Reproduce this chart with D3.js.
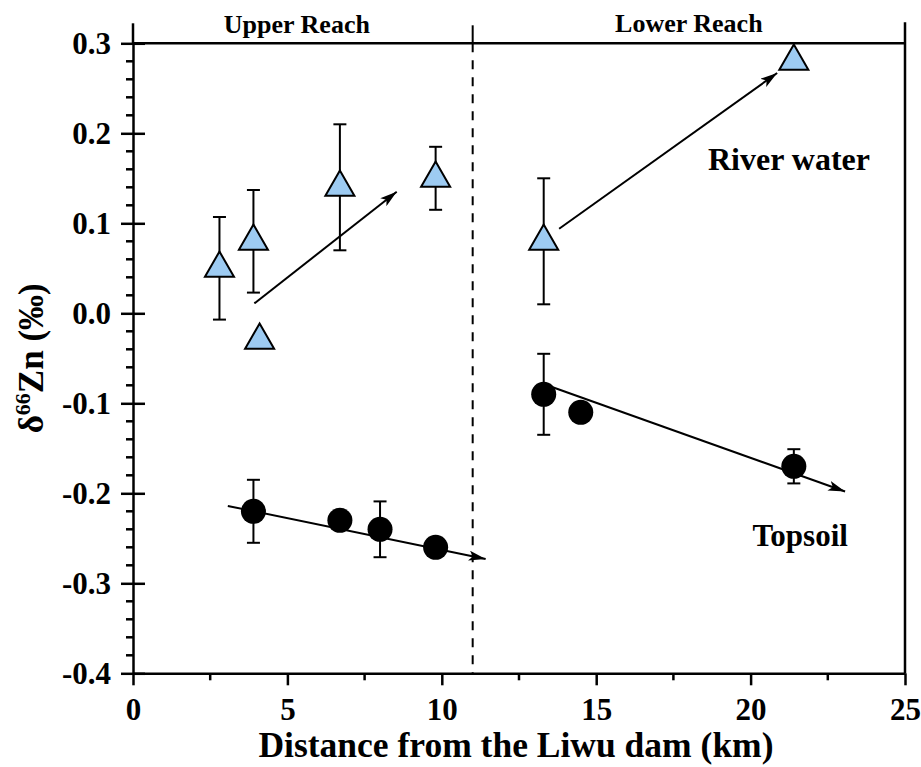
<!DOCTYPE html>
<meta charset="utf-8">
<style>
  body { margin: 0; background: #fff; }
  text { font-family: 'Liberation Serif', 'Times New Roman', serif; font-weight: bold; fill: #000; }
  .tick text { font-size: 31px; }
  .axis path, .axis line { stroke: #000; stroke-width: 2.5px; }
</style>
<script src="https://d3js.org/d3.v7.min.js"></script>
<div id="chart"></div>
<script>

// river water: distance (km), d66Zn, error
var waterX   = [2.8, 3.9, 4.1, 6.7, 9.8, 13.3, 21.4];
var waterY   = [0.05, 0.08, -0.03, 0.14, 0.15, 0.08, 0.28];
var waterErr = [0.057, 0.057, null, 0.07, 0.035, 0.07, null];

// topsoil
var soilX   = [3.9, 6.7, 8.0, 9.8, 13.3, 14.5, 21.4];
var soilY   = [-0.22, -0.23, -0.24, -0.26, -0.09, -0.11, -0.17];
var soilErr = [0.035, null, 0.031, null, 0.045, null, 0.019];

// trend arrows [start, end]
var arrowUpperWater = [[3.93, 0.011], [8.54, 0.135]];
var arrowLowerWater = [[13.8, 0.094], [20.86, 0.267]];
var arrowUpperSoil  = [[3.07, -0.214], [11.42, -0.273]];
var arrowLowerSoil  = [[13.5, -0.081], [23.06, -0.198]];

var xTicks = [0, 5, 10, 15, 20, 25];
var xMinor = [2.5, 7.5, 12.5, 17.5, 22.5];
var yTicks = [-0.4, -0.3, -0.2, -0.1, 0.0, 0.1, 0.2, 0.3];
var yMinor = d3.range(-40, 31, 2).filter(function(v){ return v % 10 != 0; }).map(function(v){ return v / 100; });
var boundary = 11;

var W = 921, H = 767;
var margin = {top: 43.3, right: 16, bottom: 93.7, left: 133},
    width = W - margin.left - margin.right,
    height = H - margin.top - margin.bottom;

var svg = d3.select("#chart").append("svg")
    .attr("width", W).attr("height", H)
  .append("g")
    .attr("transform", "translate(" + margin.left + "," + margin.top + ")");

var x = d3.scaleLinear().domain([0, 25]).range([0, width]);
var y = d3.scaleLinear().domain([-0.4, 0.3]).range([height, 0]);

var defs = svg.append("defs");
defs.append("marker")
    .attr("id", "arrow")
    .attr("markerUnits", "userSpaceOnUse")
    .attr("markerWidth", 17).attr("markerHeight", 10)
    .attr("refX", 17).attr("refY", 5)
    .attr("orient", "auto")
  .append("path")
    .attr("d", "M0,0 L17,5 L0,10 L4,5 z")
    .attr("fill", "#000");

// x axis
var xAxis = svg.append("g")
    .attr("class", "axis")
    .attr("transform", "translate(0," + height + ")")
    .call(d3.axisBottom(x).tickValues(xTicks).tickSize(12).tickSizeOuter(0));
xAxis.selectAll(".tick text").attr("y", 46.7).attr("dy", 0);
xAxis.selectAll(".minor")
    .data(xMinor).enter().append("line")
    .attr("x1", function(d){ return x(d); }).attr("x2", function(d){ return x(d); })
    .attr("y1", 0).attr("y2", 7)
    .attr("stroke", "#000").attr("stroke-width", 2.5);

// y axis
var yAxis = svg.append("g")
    .attr("class", "axis")
    .call(d3.axisLeft(y).tickValues(yTicks).tickSize(12).tickSizeOuter(0)
      .tickFormat(function(d){ return d.toFixed(1); }));
yAxis.selectAll(".tick line").attr("x2", 12).attr("x1", -12);
yAxis.selectAll(".tick text").attr("x", -22).attr("dy", "0.34em");
yAxis.selectAll(".minor")
    .data(yMinor).enter().append("line")
    .attr("y1", function(d){ return y(d); }).attr("y2", function(d){ return y(d); })
    .attr("x1", -7).attr("x2", 0)
    .attr("stroke", "#000").attr("stroke-width", 2.5);

// frame: top line, right line, and the short dividers above the top
svg.append("line")
    .attr("x1", x(0)).attr("x2", x(25)).attr("y1", y(0.3)).attr("y2", y(0.3))
    .attr("stroke", "#000").attr("stroke-width", 2.5);
svg.append("line")
    .attr("x1", x(25)).attr("x2", x(25)).attr("y1", -21).attr("y2", height)
    .attr("stroke", "#000").attr("stroke-width", 2.5);
svg.append("line")
    .attr("x1", x(0)).attr("x2", x(0)).attr("y1", -20).attr("y2", 0)
    .attr("stroke", "#000").attr("stroke-width", 2.5);
svg.append("line")
    .attr("x1", x(boundary)).attr("x2", x(boundary)).attr("y1", -18).attr("y2", 0)
    .attr("stroke", "#000").attr("stroke-width", 2);
svg.append("line")
    .attr("x1", x(boundary)).attr("x2", x(boundary)).attr("y1", 0).attr("y2", height)
    .attr("stroke", "#000").attr("stroke-width", 2)
    .attr("stroke-dasharray", "9,8");

// reach labels
svg.append("text")
    .attr("x", (x(0) + x(boundary)) / 2 - 6).attr("y", -10.5)
    .attr("text-anchor", "middle").style("font-size", "26px")
    .text("Upper Reach");
svg.append("text")
    .attr("x", (x(boundary) + x(25)) / 2).attr("y", -11)
    .attr("text-anchor", "middle").style("font-size", "26px")
    .text("Lower Reach");

// trend arrows
var line = d3.line().x(function(d){ return x(d[0]); }).y(function(d){ return y(d[1]); });
[arrowUpperWater, arrowLowerWater, arrowUpperSoil, arrowLowerSoil].forEach(function(a){
  svg.append("path")
    .attr("d", line(a))
    .attr("fill", "none").attr("stroke", "#000").attr("stroke-width", 2)
    .attr("marker-end", "url(#arrow)");
});

// error bars
function errorBars(xs, ys, es) {
  var g = svg.append("g");
  xs.forEach(function(xv, i){
    if (es[i] == null) return;
    var lo = y(ys[i] - es[i]), hi = y(ys[i] + es[i]), cx = x(xv);
    g.append("line").attr("x1", cx).attr("x2", cx).attr("y1", lo).attr("y2", hi)
      .attr("stroke", "#000").attr("stroke-width", 2);
    [lo, hi].forEach(function(v){
      g.append("line").attr("x1", cx - 6.5).attr("x2", cx + 6.5).attr("y1", v).attr("y2", v)
        .attr("stroke", "#000").attr("stroke-width", 2);
    });
  });
}
errorBars(waterX, waterY, waterErr);
errorBars(soilX, soilY, soilErr);

// river water triangles
svg.append("g").selectAll("path")
    .data(waterX).enter().append("path")
    .attr("d", d3.symbol().type(d3.symbolTriangle).size(365))
    .attr("transform", function(d, i){ return "translate(" + x(d) + "," + y(waterY[i]) + ")"; })
    .attr("fill", "#9DCBF2").attr("stroke", "#000").attr("stroke-width", 2);

// topsoil circles
svg.append("g").selectAll("circle")
    .data(soilX).enter().append("circle")
    .attr("cx", function(d){ return x(d); })
    .attr("cy", function(d, i){ return y(soilY[i]); })
    .attr("r", 12.5)
    .attr("fill", "#000");

// series labels
svg.append("text")
    .attr("x", 708 - margin.left).attr("y", 170 - margin.top)
    .style("font-size", "32px")
    .text("River water");
svg.append("text")
    .attr("x", 752.5 - margin.left).attr("y", 545.7 - margin.top)
    .style("font-size", "31px")
    .text("Topsoil");

// axis titles
svg.append("text")
    .attr("x", width / 2 - 3).attr("y", height + 84)
    .attr("text-anchor", "middle").style("font-size", "35.5px")
    .text("Distance from the Liwu dam (km)");

var yt = svg.append("text")
    .attr("transform", "translate(" + (43 - margin.left) + "," + (height / 2) + ") rotate(-90)")
    .attr("text-anchor", "middle").style("font-size", "35px");
yt.append("tspan").text("δ");
yt.append("tspan").attr("dy", -13).style("font-size", "22px").text("66");
yt.append("tspan").attr("dy", 13).text("Zn (‰)");

</script>
